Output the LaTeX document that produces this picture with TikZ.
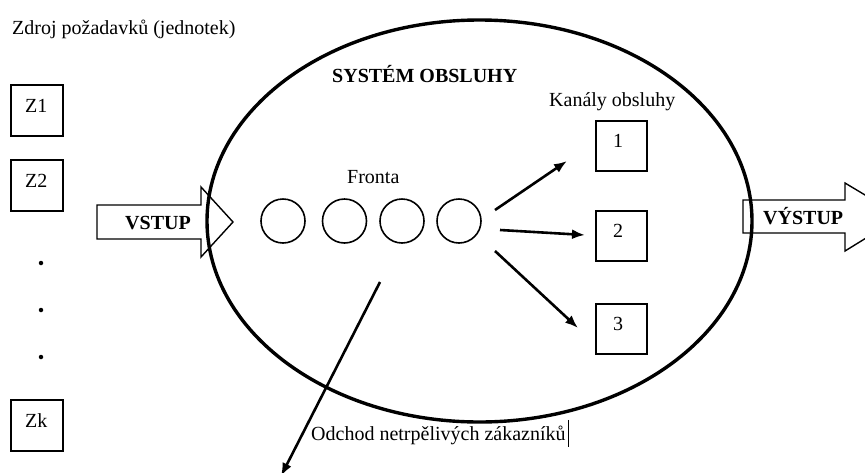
\documentclass[tikz,border=0pt]{standalone}
\usepackage{fontspec}
\setmainfont{Liberation Serif}
\usetikzlibrary{arrows.meta,shapes.geometric}
\begin{document}
\begin{tikzpicture}[x=1pt,y=-1pt,
  txt/.style={inner sep=0pt,anchor=base west,font=\fontsize{20}{24}\selectfont},
  btxt/.style={txt,font=\fontsize{20}{24}\selectfont\bfseries},
  srcbox/.style={draw,line width=1.4pt,minimum width=52pt,minimum height=51pt,inner sep=0pt},
  queue/.style={draw,circle,line width=1.6pt,minimum size=44pt,inner sep=0pt},
  bigarrow/.style={draw,line width=1.4pt,line join=miter},
  flow/.style={line width=2.6pt,-{Latex[length=13pt,width=10pt]}},
  dot/.style={circle,fill,inner sep=0pt,minimum size=4.5pt}]
\useasboundingbox (0,0) rectangle (865,472);
\clip (0,0) rectangle (865,472);

% source of requests
\node[txt] (srctitle) at (12,34) {Zdroj požadavků (jednotek)};
\node[srcbox] (z1) at (37,110.5) {};
\node[txt] (z1t) at (25,112) {Z1};
\node[srcbox] (z2) at (37,185.5) {};
\node[txt] (z2t) at (25,187) {Z2};
\node[dot] (d1) at (41,263) {};
\node[dot] (d2) at (41,310) {};
\node[dot] (d3) at (41,357) {};
\node[srcbox] (zk) at (37,425.5) {};
\node[txt] (zkt) at (25,427) {Zk};

% input arrow
\draw[bigarrow] (97,205) -- (201,205) -- (201,187) -- (233,222) -- (201,257)
  -- (201,239) -- (97,239) -- cycle;
\node[btxt] (vstup) at (125,229) {VSTUP};

% output arrow
\draw[bigarrow] (743,200) -- (845,200) -- (845,183) -- (901,216.5) -- (845,251)
  -- (845,233) -- (743,233) -- cycle;
\node[btxt] (vystup) at (763,224) {VÝSTUP};

% the service system
\node[draw,ellipse,line width=3.4pt,minimum width=545pt,minimum height=402pt,inner sep=0pt]
  (sys) at (479.5,221) {};
\node[btxt] (systitle) at (332,82) {SYSTÉM OBSLUHY};

% queue
\node[txt] (fronta) at (347,183) {Fronta};
\node[queue] (q1) at (283,221) {};
\node[queue] (q2) at (344.5,221) {};
\node[queue] (q3) at (402,221) {};
\node[queue] (q4) at (459,221) {};

% service channels
\node[txt] (kanaly) at (549,106) {Kanály obsluhy};
\node[srcbox,minimum width=51pt,minimum height=50pt] (c1) at (621.5,146) {};
\node[txt] (c1t) at (613,147) {1};
\node[srcbox,minimum width=51pt,minimum height=50pt] (c2) at (621.5,236) {};
\node[txt] (c2t) at (613,237) {2};
\node[srcbox,minimum width=51pt,minimum height=50pt] (c3) at (621.5,329) {};
\node[txt] (c3t) at (613,330) {3};

% flows from the queue to the channels
\coordinate (s1) at (495,210);
\coordinate (e1) at (567,161);
\coordinate (s2) at (500,230);
\coordinate (e2) at (585,235);
\coordinate (s3) at (495,251);
\coordinate (e3) at (578,328);
\draw[flow] (s1) -- (e1);
\draw[flow] (s2) -- (e2);
\draw[flow] (s3) -- (e3);

% impatient customers leaving
\coordinate (ls) at (380,282);
\coordinate (le) at (281,476);
\draw[flow] (ls) -- (le);
\node[txt] (odchod) at (311,440) {Odchod netrpělivých zákazníků};
\draw[line width=0.9pt] (odchod.east) ++(3,-15) coordinate (cur) -- ++(0,27);
\end{tikzpicture}
\end{document}
